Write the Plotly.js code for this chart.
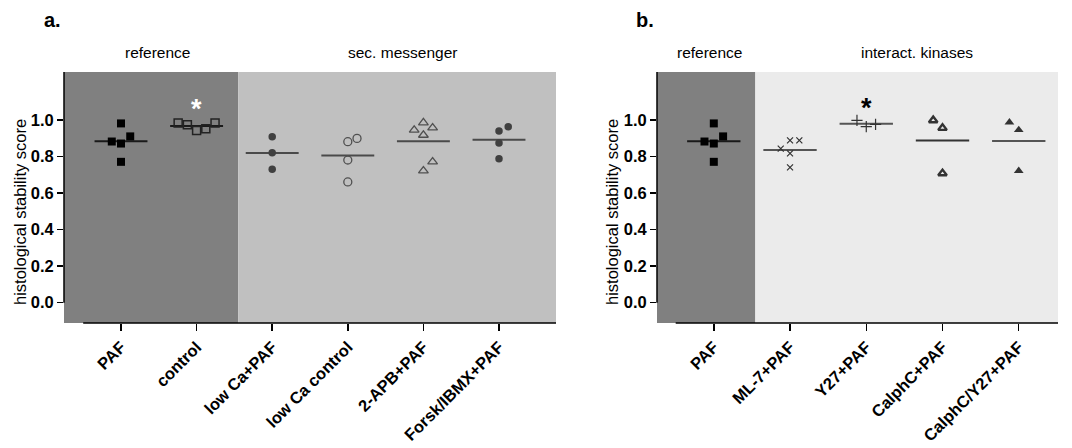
<!DOCTYPE html>
<html>
<head>
<meta charset="utf-8">
<script src="https://cdn.plot.ly/plotly-3.0.1.min.js"></script>
<style>
  html, body { margin: 0; padding: 0; background: #ffffff; }
  #chart { width: 1072px; height: 448px; }
</style>
</head>
<body>
<div id="chart"></div>
<script>
// ---------- DATA ----------
// Panel a
const catsA = ["PAF", "control", "low Ca+PAF", "low Ca control", "2-APB+PAF", "Forsk/IBMX+PAF"];
const a_PAF        = [0.980, 0.909, 0.881, 0.870, 0.770];
const a_control    = [0.982, 0.973, 0.941, 0.951, 0.982];
const a_lowCaPAF   = [0.907, 0.820, 0.729];
const a_lowCaCtrl  = [0.880, 0.898, 0.780, 0.660];
const a_APB        = [0.944, 0.984, 0.956, 0.916, 0.770, 0.721];
const a_Forsk      = [0.938, 0.962, 0.873, 0.787];
// Panel b
const catsB = ["PAF", "ML-7+PAF", "Y27+PAF", "CalphC+PAF", "CalphC/Y27+PAF"];
const b_PAF        = [0.980, 0.909, 0.881, 0.870, 0.770];
const b_ML7        = [0.887, 0.887, 0.842, 0.816, 0.740];
const b_Y27        = [0.997, 0.962, 0.975];
const b_CalphC     = [0.997, 0.955, 0.707];
const b_CalphCY27  = [0.986, 0.944, 0.721];
const yTicks = [0.0, 0.2, 0.4, 0.6, 0.8, 1.0];
const yTitle = "histological stability score";

// ---------- presentation (point spreading slots, styles) ----------
const slotW = 0.122;   // horizontal spread of overlapping points (category units)
const halfMean = 0.35;

const groupsA = [
  {vals: a_PAF,       slots: [0, 1, -1, 0, 0],     sym: "square",          size: 8, color: "#000000", lw: 0,   meanColor: "#1a1a1a"},
  {vals: a_control,   slots: [-2, -1, 0, 1, 2],    sym: "square-open",     size: 8, color: "#222222", lw: 1.5, meanColor: "#1a1a1a"},
  {vals: a_lowCaPAF,  slots: [0, 0, 0],            sym: "circle",          size: 7.5, color: "#404040", lw: 0, meanColor: "#4a4a4a"},
  {vals: a_lowCaCtrl, slots: [0, 1, 0, 0],         sym: "circle-open",     size: 8, color: "#505050", lw: 1.3, meanColor: "#4a4a4a"},
  {vals: a_APB,       slots: [-1, 0, 1, 0, 1, 0],  sym: "triangle-up-open",size: 8.5, color: "#505050", lw: 1.3, meanColor: "#4a4a4a"},
  {vals: a_Forsk,     slots: [0, 1, 0, 0],         sym: "circle",          size: 7.5, color: "#404040", lw: 0, meanColor: "#4a4a4a"}
];
const groupsB = [
  {vals: b_PAF,       slots: [0, 1, -1, 0, 0],     sym: "square",          size: 8, color: "#000000", lw: 0,   meanColor: "#1a1a1a"},
  {vals: b_ML7,       slots: [0, 1, -1, 0, 0],     sym: "x-thin-open",     size: 6, color: "#333333", lw: 1.2, meanColor: "#555555"},
  {vals: b_Y27,       slots: [-1, 0, 1],           sym: "cross-thin-open", size: 8, color: "#333333", lw: 1.2, meanColor: "#555555"},
  {vals: b_CalphC,    slots: [-1, 0, 0],           sym: "triangle-up-open",size: 7.5, color: "#333333", lw: 2.4, meanColor: "#333333"},
  {vals: b_CalphCY27, slots: [-1, 0, 0],           sym: "triangle-up",     size: 8.5, color: "#333333", lw: 0, meanColor: "#555555"}
];

const mean = arr => arr.reduce((s, v) => s + v, 0) / arr.length;

function buildTraces(groups, xa, ya) {
  const traces = [];
  groups.forEach((g, i) => {
    const m = mean(g.vals);
    traces.push({
      type: "scatter", mode: "lines", xaxis: xa, yaxis: ya,
      x: [i - halfMean, i + halfMean], y: [m, m],
      line: {color: g.meanColor, width: 2}, hoverinfo: "skip", showlegend: false
    });
    traces.push({
      type: "scatter", mode: "markers", xaxis: xa, yaxis: ya,
      x: g.vals.map((v, k) => i + g.slots[k] * slotW), y: g.vals,
      marker: {symbol: g.sym, size: g.size, color: g.color,
               line: {color: g.color, width: g.lw}},
      showlegend: false
    });
  });
  return traces;
}

const traces = buildTraces(groupsA, "x", "y").concat(buildTraces(groupsB, "x2", "y2"));

const FONT = "Liberation Sans, Arial, Helvetica, sans-serif";
const yRange = [-0.111, 1.261];
const xRangeA = [-0.754, 5.754];
const xRangeB = [-0.745, 4.515];
const yDom = [1 - 323 / 448, 1 - 72 / 448];

function xAxis(domain, range, cats) {
  return {
    domain: domain, range: range, fixedrange: true,
    tickvals: cats.map((c, i) => i), ticktext: cats,
    tickangle: -45, ticks: "outside", ticklen: 7, tickwidth: 1.5, tickcolor: "#000",
    tickfont: {family: FONT, size: 16.5, color: "#000", weight: "bold"},
    showgrid: false, zeroline: false, showline: false
  };
}
function yAxis(anchor) {
  return {
    domain: yDom, range: yRange, anchor: anchor, fixedrange: true,
    tickvals: yTicks, ticktext: yTicks.map(v => v.toFixed(1)),
    ticks: "outside", ticklen: 6, tickwidth: 1.5, tickcolor: "#000",
    tickfont: {family: FONT, size: 16.5, color: "#000", weight: "bold"},
    showgrid: false, zeroline: false, showline: false
  };
}

const shapes = [
  // panel a backgrounds
  {type: "rect", layer: "below", xref: "x", yref: "y domain", x0: xRangeA[0], x1: 1.55, y0: 0, y1: 1, fillcolor: "#808080", line: {width: 0}},
  {type: "rect", layer: "below", xref: "x", yref: "y domain", x0: 1.55, x1: xRangeA[1], y0: 0, y1: 1, fillcolor: "#c0c0c0", line: {width: 0}},
  // panel b backgrounds
  {type: "rect", layer: "below", xref: "x2", yref: "y2 domain", x0: xRangeB[0], x1: 0.545, y0: 0, y1: 1, fillcolor: "#808080", line: {width: 0}},
  {type: "rect", layer: "below", xref: "x2", yref: "y2 domain", x0: 0.545, x1: xRangeB[1], y0: 0, y1: 1, fillcolor: "#ebebeb", line: {width: 0}},
  // axis lines
  {type: "line", xref: "x", yref: "y domain", x0: -0.5, x1: xRangeA[1], y0: 0, y1: 0, line: {color: "#000", width: 1.5}},
  {type: "line", xref: "x domain", yref: "y", x0: 0, x1: 0, y0: 0, y1: yRange[1], line: {color: "#000", width: 1.5}},
  {type: "line", xref: "x2", yref: "y2 domain", x0: -0.5, x1: xRangeB[1], y0: 0, y1: 0, line: {color: "#000", width: 1.5}},
  {type: "line", xref: "x2 domain", yref: "y2", x0: 0, x1: 0, y0: 0, y1: yRange[1], line: {color: "#000", width: 1.5}}
];

const px = v => v / 1072;
const py = v => 1 - v / 448;
const hdr = (text, xpx) => ({text: text, xref: "paper", yref: "paper", x: px(xpx), y: py(53),
  xanchor: "center", yanchor: "middle", showarrow: false, font: {family: FONT, size: 15.5, color: "#000"}});
const ytitle = xpx => ({text: yTitle, xref: "paper", yref: "paper", x: px(xpx), y: py(212),
  xanchor: "center", yanchor: "middle", textangle: -90, showarrow: false,
  font: {family: FONT, size: 16.5, color: "#000"}});

const annotations = [
  {text: "a.", xref: "paper", yref: "paper", x: px(42), y: py(20), xanchor: "left", yanchor: "middle",
   showarrow: false, font: {family: FONT, size: 20, color: "#000", weight: "bold"}},
  {text: "b.", xref: "paper", yref: "paper", x: px(634), y: py(20), xanchor: "left", yanchor: "middle",
   showarrow: false, font: {family: FONT, size: 20, color: "#000", weight: "bold"}},
  hdr("reference", 157), hdr("sec. messenger", 402),
  hdr("reference", 709), hdr("interact. kinases", 917),
  ytitle(20), ytitle(612),
  {text: "*", xref: "x", yref: "y", x: 1, y: 1.06, xanchor: "center", yanchor: "middle", showarrow: false,
   font: {family: FONT, size: 27, color: "#ffffff", weight: "bold"}},
  {text: "*", xref: "x2", yref: "y2", x: 2, y: 1.065, xanchor: "center", yanchor: "middle", showarrow: false,
   font: {family: FONT, size: 27, color: "#000000", weight: "bold"}}
];

const layout = {
  width: 1072, height: 448,
  margin: {l: 0, r: 0, t: 0, b: 0},
  paper_bgcolor: "#ffffff", plot_bgcolor: "rgba(0,0,0,0)",
  showlegend: false,
  font: {family: FONT, color: "#000"},
  xaxis: xAxis([px(64), px(556)], xRangeA, catsA),
  yaxis: yAxis("x"),
  xaxis2: xAxis([px(657), px(1058)], xRangeB, catsB),
  yaxis2: yAxis("x2"),
  shapes: shapes,
  annotations: annotations
};
layout.xaxis.anchor = "y";
layout.xaxis2.anchor = "y2";

Plotly.newPlot("chart", traces, layout, {displayModeBar: false, staticPlot: true});
</script>
</body>
</html>
